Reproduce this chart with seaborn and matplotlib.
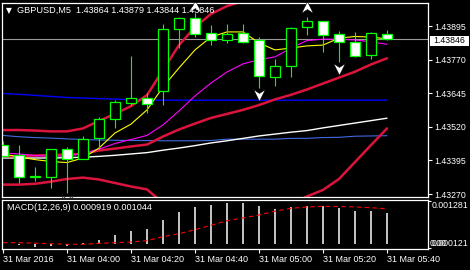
import matplotlib
matplotlib.use("Agg")
import matplotlib.pyplot as plt
import matplotlib.transforms as mtransforms
from matplotlib.patches import Rectangle
from matplotlib.path import Path
import seaborn as sns

# ---------------- data ----------------
bar_times = ["03:40", "03:45", "03:50", "03:55", "04:00", "04:05", "04:10", "04:15",
             "04:20", "04:25", "04:30", "04:35", "04:40", "04:45", "04:50", "04:55",
             "05:00", "05:05", "05:10", "05:15", "05:20", "05:25", "05:30", "05:35", "05:40"]
opens = [1.43452, 1.43415, 1.43336, 1.43334, 1.43436, 1.43401, 1.43479, 1.43548, 1.43610,
         1.43626, 1.43653, 1.43883, 1.43924, 1.43868, 1.43842, 1.43868, 1.43843, 1.43704,
         1.43745, 1.43890, 1.43912, 1.43864, 1.43835, 1.43786, 1.43864]
highs = [1.43467, 1.43452, 1.43370, 1.43437, 1.43444, 1.43486, 1.43558, 1.43620, 1.43783,
         1.43647, 1.43902, 1.43930, 1.43944, 1.43899, 1.43902, 1.43902, 1.43853, 1.43771,
         1.43891, 1.43930, 1.43914, 1.43875, 1.43872, 1.43872, 1.43879]
lows = [1.43404, 1.43311, 1.43318, 1.43293, 1.43275, 1.43400, 1.43436, 1.43514, 1.43600,
        1.43572, 1.43600, 1.43812, 1.43854, 1.43824, 1.43831, 1.43831, 1.43665, 1.43672,
        1.43704, 1.43863, 1.43799, 1.43762, 1.43781, 1.43773, 1.43844]
closes = [1.43411, 1.43333, 1.43335, 1.43436, 1.43401, 1.43475, 1.43548, 1.43612, 1.43627,
          1.43604, 1.43883, 1.43924, 1.43864, 1.43842, 1.43865, 1.43837, 1.43708, 1.43745,
          1.43886, 1.43912, 1.43860, 1.43834, 1.43785, 1.43869, 1.43846]

ma_blue = [1.43644, 1.43641, 1.43637, 1.43633, 1.43629, 1.43627, 1.43625, 1.43623, 1.43621,
           1.43620, 1.43619, 1.43619, 1.43619, 1.43619, 1.43619, 1.43619, 1.43619, 1.43619,
           1.43619, 1.43619, 1.43619, 1.43619, 1.43619, 1.43619, 1.43619]
ma_royal = [1.43488, 1.43483, 1.43480, 1.43478, 1.43475, 1.43473, 1.43471, 1.43470, 1.43469,
            1.43469, 1.43468, 1.43468, 1.43468, 1.43469, 1.43474, 1.43474, 1.43474, 1.43474,
            1.43477, 1.43477, 1.43480, 1.43481, 1.43485, 1.43486, 1.43487]
ma_white = [1.43404, 1.43404, 1.43404, 1.43404, 1.43405, 1.43407, 1.43410, 1.43414, 1.43419,
            1.43424, 1.43433, 1.43441, 1.43450, 1.43460, 1.43468, 1.43477, 1.43486, 1.43493,
            1.43500, 1.43506, 1.43516, 1.43525, 1.43534, 1.43543, 1.43552]
ma_yellow = [1.43419, 1.43408, 1.43398, 1.43391, 1.43387, 1.43404, 1.43441, 1.43497, 1.43530,
             1.43583, 1.43668, 1.43739, 1.43806, 1.43854, 1.43873, 1.43873, 1.43832, 1.43806,
             1.43813, 1.43821, 1.43824, 1.43850, 1.43856, 1.43854, 1.43847]
ma_magenta = [1.43423, 1.43419, 1.43413, 1.43410, 1.43411, 1.43421, 1.43437, 1.43458, 1.43473,
              1.43488, 1.43527, 1.43579, 1.43635, 1.43683, 1.43724, 1.43754, 1.43770, 1.43780,
              1.43813, 1.43841, 1.43846, 1.43846, 1.43843, 1.43836, 1.43827]
bb_mid = [1.43411, 1.43411, 1.43413, 1.43415, 1.43417, 1.43419, 1.43432, 1.43439, 1.43447,
          1.43454, 1.43484, 1.43510, 1.43532, 1.43553, 1.43568, 1.43583, 1.43601, 1.43622,
          1.43639, 1.43659, 1.43681, 1.43703, 1.43725, 1.43752, 1.43775]
bb_up = [1.43508, 1.43508, 1.43506, 1.43503, 1.43503, 1.43514, 1.43542, 1.43568, 1.43597,
         1.43638, 1.43731, 1.43824, 1.43891, 1.43940, 1.43969, 1.43988, 1.44010, 1.44033,
         1.44050, 1.44059, 1.44077, 1.44081, 1.44062, 1.44051, 1.44035]
bb_low = [1.43305, 1.43305, 1.43308, 1.43316, 1.43326, 1.43331, 1.43324, 1.43311, 1.43298,
          1.43287, 1.43237, 1.43196, 1.43173, 1.43166, 1.43166, 1.43177, 1.43192, 1.43211,
          1.43229, 1.43261, 1.43285, 1.43326, 1.43389, 1.43452, 1.43514]

fractal_up_idx = [12, 19]
fractal_up_val = [1.43968, 1.43966]
fractal_dn_idx = [4, 16, 21]
fractal_dn_val = [1.43244, 1.43638, 1.43735]

macd_main = [-0.000010, -0.000039, -0.000099, -0.000069, -0.000069, 0.000015, 0.000120,
             0.000260, 0.000389, 0.000449, 0.000718, 0.000949, 0.001098, 0.001158, 0.001218,
             0.001218, 0.001128, 0.001039, 0.001098, 0.001128, 0.001128, 0.001068, 0.000979,
             0.000979, 0.000919]
macd_signal = [0.000030, 0.000030, 0.000015, 0.000000, -0.000018, -0.000018, 0.000009,
               0.000030, 0.000051, 0.000090, 0.000210, 0.000299, 0.000419, 0.000551, 0.000688,
               0.000772, 0.000859, 0.000973, 0.001060, 0.001098, 0.001119, 0.001113, 0.001101,
               0.001077, 0.001044]

price_ticks = [1.43895, 1.43770, 1.43645, 1.43520, 1.43395, 1.43270]
macd_ticks = [0.001281, -0.000121]
macd_tick_labels = ["0.001281", "0.000121"]
time_tick_idx = [0, 4, 8, 12, 16, 20, 24]
time_tick_labels = ["31 Mar 2016", "31 Mar 04:00", "31 Mar 04:20", "31 Mar 04:40",
                    "31 Mar 05:00", "31 Mar 05:20", "31 Mar 05:40"]
symbol_title = "GBPUSD,M5  1.43864 1.43879 1.43844 1.43846"
macd_title = "MACD(12,26,9) 0.000919 0.001044"

# ---------------- style ----------------
sns.set_theme(style="dark")
plt.rcParams["font.family"] = ["Liberation Sans", "DejaVu Sans"]
plt.rcParams["axes.facecolor"] = "black"
plt.rcParams["figure.facecolor"] = "black"

W, H = 470, 270
fig = plt.figure(figsize=(4.7, 2.7), dpi=100, facecolor="black")


def frac(x0, y0, x1, y1):
    return [x0 / W, 1 - y1 / H, (x1 - x0) / W, (y1 - y0) / H]


ax = fig.add_axes(frac(2, 2.7, 428, 197))
ax2 = fig.add_axes(frac(2, 200, 428, 249.3))

n = len(bar_times)
idx = list(range(n))
LIME = "#00FF00"

# ---------------- main chart ----------------
ax.set_facecolor("black")
last = closes[-1]
ax.axhline(last, color="#9a9a9a", lw=0.8, zorder=1)

line_specs = [
    (ma_blue, "#0000FF", 1.0),
    (ma_royal, "#4169E1", 0.8),
    (ma_white, "#FFFFFF", 1.0),
    (bb_low, "#DC143C", 1.8),
    (bb_mid, "#DC143C", 1.8),
    (bb_up, "#DC143C", 1.8),
    (ma_magenta, "#FF00FF", 0.8),
    (ma_yellow, "#FFFF00", 0.8),
]
for vals, col, lw in line_specs:
    sns.lineplot(x=idx, y=vals, ax=ax, color=col, lw=lw, legend=False, zorder=2,
                 estimator=None, sort=False)

for i in idx:
    o, h, l, c = opens[i], highs[i], lows[i], closes[i]
    ax.vlines(i, l, h, color=LIME, lw=0.8, zorder=4)
    bull = c >= o
    body = max(abs(c - o), 0.00001)
    ax.bar(i, body, bottom=min(o, c), width=0.58,
           facecolor="black" if bull else "white", edgecolor=LIME, lw=0.9, zorder=5)

up_marker = Path([(0, 1), (1, -1), (0, -0.35), (-1, -1), (0, 1)],
                 [Path.MOVETO, Path.LINETO, Path.LINETO, Path.LINETO, Path.CLOSEPOLY])
dn_marker = Path([(0, -1), (1, 1), (0, 0.35), (-1, 1), (0, -1)],
                 [Path.MOVETO, Path.LINETO, Path.LINETO, Path.LINETO, Path.CLOSEPOLY])
ax.plot(fractal_up_idx, fractal_up_val, ls="none", marker=up_marker, ms=8.5,
        mfc="white", mec="black", mew=0.4, zorder=6)
ax.plot(fractal_dn_idx, fractal_dn_val, ls="none", marker=dn_marker, ms=8.5,
        mfc="white", mec="black", mew=0.4, zorder=6)

xlim = (-1 / 16, 425 / 16)
ax.set_xlim(*xlim)
ax.set_ylim(1.432589, 1.439817)
ax.set_xlabel("")
ax.set_ylabel("")
ax.yaxis.tick_right()
ax.set_yticks(price_ticks)
ax.set_yticklabels([f"{v:.5f}" for v in price_ticks])
ax.tick_params(axis="y", which="both", right=True, left=False, labelright=True,
               labelleft=False, length=3, width=0.8, colors="white", pad=1.2,
               labelsize=6.3)
ax.tick_params(axis="x", bottom=False, labelbottom=False)
ax.grid(False)
for sp in ax.spines.values():
    sp.set_color("white")
    sp.set_linewidth(0.9)

# bid price box
px = (1.439817 - 1.432589) / 194.3
trans = mtransforms.blended_transform_factory(fig.transFigure, ax.transData)
fig.add_artist(Rectangle((430 / W, last - 6.4 * px), 39 / W, 10 * px, transform=trans,
                         facecolor="white", edgecolor="none", clip_on=False, zorder=10))
fig.text(433 / W, last - 1.3 * px, f"{last:.5f}", transform=trans, color="black",
         fontsize=6.3, va="center", ha="left", zorder=11)

# ---------------- MACD ----------------
ax2.set_facecolor("black")
sns.barplot(x=idx, y=macd_main, ax=ax2, native_scale=True, width=0.125,
            color="#C0C0C0", saturation=1, edgecolor="none", linewidth=0)
sns.lineplot(x=idx, y=macd_signal, ax=ax2, color="#FF0000", lw=0.8,
             linestyle=(0, (4, 3)), legend=False, estimator=None, sort=False)
ax2.set_xlim(*xlim)
ax2.set_ylim(-0.000168, 0.001308)
ax2.set_xlabel("")
ax2.set_ylabel("")
ax2.grid(False)
ax2.yaxis.tick_right()
ax2.set_yticks(macd_ticks)
ax2.set_yticklabels(macd_tick_labels)
ax2.tick_params(axis="y", right=True, left=False, labelright=True, labelleft=False,
                length=2, width=0.8, colors="white", pad=0.5, labelsize=6.3)
ylabels = ax2.get_yticklabels()
ylabels[0].set_va("top")
ylabels[1].set_va("bottom")
ax2.set_xticks(time_tick_idx)
ax2.set_xticklabels(time_tick_labels)
ax2.tick_params(axis="x", bottom=True, length=3, width=0.8, colors="white", pad=1.0,
                labelsize=6.5)
for lbl in ax2.get_xticklabels():
    lbl.set_ha("left")
for sp in ax2.spines.values():
    sp.set_color("white")
    sp.set_linewidth(0.9)

trans2 = mtransforms.blended_transform_factory(fig.transFigure, ax2.transData)
fig.text(430 / W, macd_ticks[1], "0.00", transform=trans2, color="white", fontsize=6.3,
         va="bottom", ha="left")

# ---------------- titles ----------------
fig.text(6 / W, 1 - 10.8 / H, "\u25BC", color="white", fontsize=5.5, va="center",
         ha="left", family=["DejaVu Sans"])
fig.text(17 / W, 1 - 10.5 / H, symbol_title, color="white", fontsize=6.6, va="center",
         ha="left")
fig.text(7 / W, 1 - 208 / H, macd_title, color="white", fontsize=6.6, va="center",
         ha="left")

fig.savefig("out.png", dpi=100, facecolor="black")
